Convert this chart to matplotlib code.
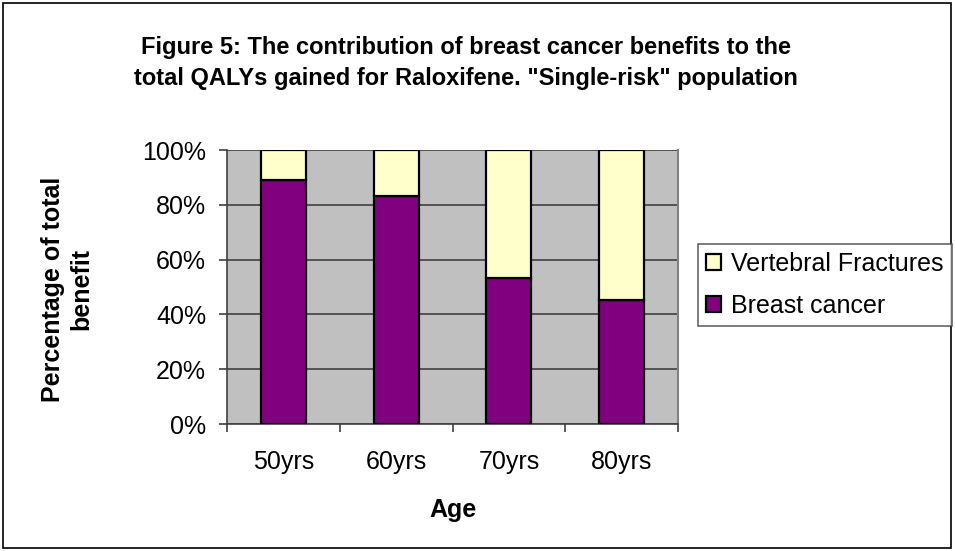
import numpy as np
import matplotlib.pyplot as plt
from matplotlib.patches import Rectangle

plt.rcParams['font.family'] = ['Liberation Sans', 'DejaVu Sans']

ages = ['50yrs', '60yrs', '70yrs', '80yrs']
breast_cancer = [89.0, 83.1, 53.2, 45.1]
vertebral = [100 - v for v in breast_cancer]

fig = plt.figure(figsize=(9.55, 5.51), dpi=100)
ax = fig.add_axes([227 / 955, 1 - 424 / 551, 451 / 955, 274 / 551])
ax.set_facecolor('#C0C0C0')

x = np.arange(len(ages))
ax.bar(x, breast_cancer, width=0.4, color='#800080', edgecolor='black', linewidth=1.6,
       label='Breast cancer', zorder=3)
ax.bar(x, vertebral, width=0.4, bottom=breast_cancer, color='#FFFFCC', edgecolor='black',
       linewidth=1.6, label='Vertebral Fractures', zorder=3)

ax.set_xlim(-0.5, 3.5)
ax.set_ylim(0, 100)
ax.set_yticks(range(0, 101, 20))
ax.set_yticklabels([f'{v}%' for v in range(0, 101, 20)], fontsize=18)
ax.yaxis.grid(True, color='#404040', linewidth=1.2, zorder=1)
ax.set_xticks(x)
ax.set_xticklabels(ages, fontsize=18)
ax.set_xticks(np.arange(-0.5, 4, 1), minor=True)
ax.tick_params(axis='x', which='major', length=0, pad=19)
ax.tick_params(axis='x', which='minor', length=6, width=1.2, color='#404040')
ax.tick_params(axis='y', length=6, width=1.2, color='#404040', pad=9)

ax.spines['top'].set_visible(False)
ax.spines['right'].set_color('#808080')
ax.spines['right'].set_linewidth(1.5)
ax.spines['left'].set_color('#404040')
ax.spines['bottom'].set_color('#404040')
ax.spines['left'].set_linewidth(1.2)
ax.spines['bottom'].set_linewidth(1.2)

ax.set_xlabel('Age', fontsize=18, fontweight='bold', labelpad=17)
fig.text(67 / 955, 1 - 289 / 551, 'Percentage of total\nbenefit', rotation=90,
         ha='center', va='center', fontsize=18, fontweight='bold', linespacing=1.25)

fig.text(466 / 955, 1 - 63 / 551,
         'Figure 5: The contribution of breast cancer benefits to the\n'
         'total QALYs gained for Raloxifene. "Single-risk" population',
         ha='center', va='center', fontsize=17, fontweight='bold', linespacing=1.4)

handles, labels = ax.get_legend_handles_labels()
leg = fig.legend(handles[::-1], labels[::-1], loc='upper left',
                 bbox_to_anchor=(698 / 955, 1 - 244 / 551), fontsize=18,
                 frameon=True, fancybox=False, edgecolor='#404040',
                 handlelength=0.6, handleheight=0.6, handletextpad=0.4,
                 borderpad=0.32, labelspacing=0.72, borderaxespad=0)
leg.get_frame().set_linewidth(1.2)

fig.patches.append(Rectangle((3 / 955, 3 / 551), 948 / 955, 545 / 551,
                             transform=fig.transFigure, fill=False,
                             edgecolor='black', linewidth=1.2))

fig.savefig('out.png', dpi=100, facecolor='white')
